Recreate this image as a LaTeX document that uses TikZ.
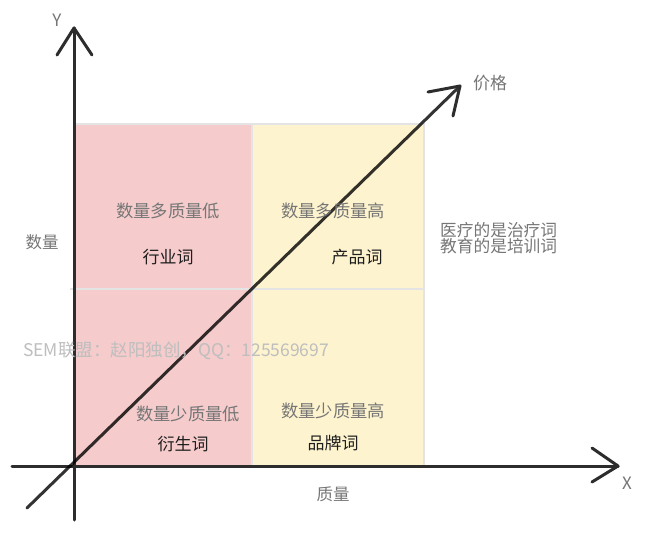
\documentclass[tikz,border=0pt]{standalone}
\usepackage{fontspec}
\setmainfont{Noto Sans CJK SC}
\definecolor{pinkq}{RGB}{245,203,204}
\definecolor{yellowq}{RGB}{253,243,206}
\definecolor{gridc}{RGB}{228,228,228}
\definecolor{axisc}{RGB}{45,45,45}
\definecolor{graytxt}{RGB}{118,118,118}
\definecolor{darktxt}{RGB}{30,30,30}
\definecolor{wmark}{RGB}{190,190,190}
\tikzset{
  axisline/.style={draw=axisc,line width=3pt,line cap=round,line join=round},
  gridline/.style={draw=gridc,line width=2.5pt},
  desc/.style={text=graytxt,font=\fontsize{17.3}{19}\selectfont,inner sep=0pt},
  term/.style={text=darktxt,font=\fontsize{17}{19}\selectfont,inner sep=0pt},
  axlabel/.style={text=graytxt,font=\fontsize{17}{19}\selectfont,inner sep=0pt},
}
\begin{document}
\begin{tikzpicture}[x=1pt,y=-1pt]
\useasboundingbox (0,0) rectangle (660,534);
\fill[white] (0,0) rectangle (660,534);
% coordinates
\coordinate (O) at (74,466);
\coordinate (TL) at (74,124);
\coordinate (TM) at (252,124);
\coordinate (TR) at (424,124);
\coordinate (ML) at (74,289);
\coordinate (MM) at (252,289);
\coordinate (MR) at (424,289);
\coordinate (BM) at (252,466);
\coordinate (BR) at (424,466);
\coordinate (Ytip) at (74,28);
\coordinate (Ybot) at (74,520);
\coordinate (Xtip) at (618,466);
\coordinate (Xleft) at (12,466);
\coordinate (Dstart) at (27,508);
\coordinate (Dtip) at (460,86);
% quadrants
\fill[pinkq] (TL) rectangle (BM);
\fill[yellowq] (TM) rectangle (BR);
\draw[gridline] (TL) -- (TR) -- (BR);
\draw[gridline] ([xshift=-4pt]ML) -- (MR);
\draw[gridline] (TM) -- (BM);
% axes
\draw[axisline] (Ybot) -- (Ytip);
\draw[axisline] ([xshift=-17pt,yshift=-27pt]Ytip) -- (Ytip) -- ([xshift=18pt,yshift=-27pt]Ytip);
\draw[axisline] (Xleft) -- (Xtip);
\draw[axisline] ([xshift=-26pt,yshift=18pt]Xtip) -- (Xtip) -- ([xshift=-26pt,yshift=-16pt]Xtip);
% diagonal price arrow
\draw[draw=black,opacity=0.8,line width=3pt,line cap=round] (Dstart) -- (Dtip);
\draw[axisline] ([xshift=-32pt,yshift=-6pt]Dtip) -- (Dtip) -- ([xshift=-7pt,yshift=-30pt]Dtip);
% labels
\node[axlabel] (ylab) at (57,20) {Y};
\node[axlabel] (xlab) at (627,483) {X};
\node[axlabel] (price) at (490,83) {价格};
\node[axlabel,font=\fontsize{16.5}{19}\selectfont] (qty) at (42,242) {数量};
\node[axlabel,font=\fontsize{16.5}{19}\selectfont] (qual) at (333,494) {质量};
\node[desc] (d1) at (168,211) {数量多质量低};
\node[term] (t1) at (168,257) {行业词};
\node[desc] (d2) at (333,211) {数量多质量高};
\node[term] (t2) at (357,257) {产品词};
\node[desc] (d3) at (188,414) {数量少质量低};
\node[term] (t3) at (183,444) {衍生词};
\node[desc] (d4) at (333,411) {数量少质量高};
\node[term] (t4) at (333,443) {品牌词};
\node[desc,anchor=west,align=left,font=\fontsize{16.7}{16.5}\selectfont] (note) at (440,238) {医疗的是治疗词\\教育的是培训词};
\node[anchor=west,inner sep=0pt,text=wmark,font=\fontsize{17.5}{19}\selectfont] (wm) at (23,351) {SEM联盟：赵阳独创，QQ：125569697};
\end{tikzpicture}
\end{document}
